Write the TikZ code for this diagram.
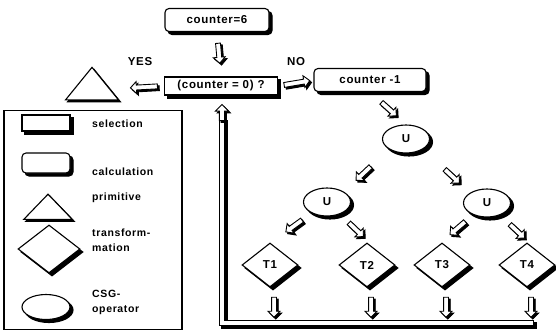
\documentclass[tikz,border=0pt]{standalone}
\usepackage{fontspec}
\setmainfont{Liberation Sans}[LetterSpace=6]
\usetikzlibrary{shapes.geometric,shapes.arrows,calc}

\begin{document}
\begin{tikzpicture}[x=1pt,y=-1pt,
  font=\fontsize{11.5}{14}\selectfont\bfseries,
  blackshadow/.style={preaction={fill=black,draw=black,transform canvas={shift={(#1,-#1)}}}},
  blackshadow/.default=3pt,
  selbox/.style={draw,line width=1.1pt,fill=white,blackshadow,minimum width=#1,minimum height=18pt,inner sep=0pt},
  calcbox/.style={draw,line width=1.1pt,fill=white,rounded corners=4pt,blackshadow,minimum width=#1,minimum height=23pt,inner sep=0pt},
  csg/.style={ellipse,draw,line width=1.1pt,fill=white,blackshadow,minimum width=47pt,minimum height=28pt,inner sep=0pt},
  trafo/.style={diamond,draw,line width=1.1pt,fill=white,blackshadow,minimum width=56pt,minimum height=44pt,inner sep=0pt},
  prim/.style={regular polygon,regular polygon sides=3,draw,line width=1.1pt,fill=white,blackshadow=2pt,minimum size=61pt,inner sep=0pt},
  arr/.style={single arrow,draw,line width=0.9pt,fill=white,minimum height=20pt,inner sep=2pt,
    single arrow head extend=3.5pt,sloped,allow upside down,blackshadow=1.8pt},
  bar/.style={double=white,double distance=4.4pt,line width=1pt,line cap=rect},
  lbl/.style={anchor=west,align=left,inner sep=0pt,font=\fontsize{10.5}{15}\selectfont\bfseries}]
\useasboundingbox (0,0) rectangle (556,334);

% loop back from the transformations
\coordinate (loopR) at (531,323);
\coordinate (loopL) at (222,323);
\coordinate (loopT) at (222,121);
\draw[line width=6.4pt,line cap=rect,transform canvas={shift={(2.4pt,-2.4pt)}}] (loopR) -- (loopL) -- (loopT);
\draw[bar] (loopR) -- (loopL) -- (loopT);

% flow chart
\node[calcbox=104pt] (init) at (217,20) {counter=6};
\node[selbox=113pt] (sel) at (221,86) {(counter = 0) ?};
\node[calcbox=112pt] (dec) at (370,80) {counter -1};
\node[prim,yscale=0.71] (tri) at (92,89) {};
\node (yes) at (140,62) {YES};
\node (no) at (296,62) {NO};

\node[csg] (Utop) at (406,139) {U};
\node[csg] (Uleft) at (327,202) {U};
\node[csg] (Uright) at (487,203) {U};

\node[trafo] (T1) at (270,265) {T1};
\node[trafo] (T2) at (367,265) {T2};
\node[trafo] (T3) at (442,265) {T3};
\node[trafo] (T4) at (527,265) {T4};

% block arrows
\path (init.south) -- node[arr,pos=0.45] {} (sel.north);
\path (sel.west) -- node[arr,pos=0.35,minimum height=27pt] {} (tri.east);
\path (sel.east) -- node[arr,pos=0.5,minimum height=26pt] {} (dec.west);
\path (dec.south) -- node[arr,pos=0.5] {} (Utop.north);
\path (Utop.south west) -- node[arr,pos=0.55] {} (Uleft.north east);
\path (Utop.south east) -- node[arr,pos=0.6] {} (Uright.north west);
\path (Uleft.center) -- node[arr,pos=0.45] {} (T1.north west);
\path (Uleft.center) -- node[arr,pos=0.52] {} (T2.north east);
\path (Uright.center) -- node[arr,pos=0.48] {} (T3.north west);
\path (Uright.center) -- node[arr,pos=0.54] {} (T4.north east);
\foreach \t in {T1,T2,T3,T4}
  \path ([xshift=4pt]\t.south) -- node[arr,pos=0.52] {} ([xshift=4pt]\t.south |- loopL);
\path (loopT) -- node[arr,pos=0,anchor=tail,minimum height=16pt,minimum width=13pt] (up) {} (loopT |- sel.south);

% legend
\node[draw,line width=1.1pt,minimum width=178pt,minimum height=219pt] (legend) at (93,220) {};
\node[selbox=48pt,minimum height=16pt] (lsel) at (46,123) {};
\node[calcbox=48pt,minimum height=20pt] (lcalc) at (46,163) {};
\node[prim,minimum size=56pt,yscale=0.6] (lprim) at (48,211) {};
\node[trafo,minimum width=62pt,minimum height=48pt] (ltrafo) at (49,249) {};
\node[csg,minimum width=48pt,minimum height=25pt] (lcsg) at (46,307) {};
\node[lbl] (tsel) at (92,124) {selection};
\node[lbl] (tcalc) at (92,172) {calculation};
\node[lbl] (tprim) at (92,198) {primitive};
\node[lbl] (ttrafo) at (92,240) {transform-\\mation};
\node[lbl] (tcsg) at (92,302) {CSG-\\operator};
\end{tikzpicture}
\end{document}
